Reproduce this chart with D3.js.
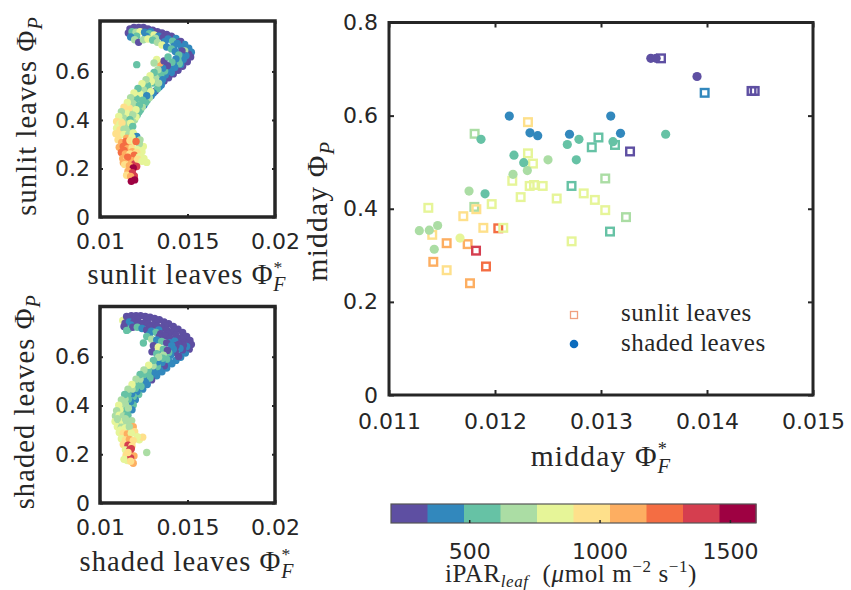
<!DOCTYPE html>
<html>
<head>
<meta charset="utf-8">
<script src="https://cdn.jsdelivr.net/npm/d3@7"></script>
<style>
  body { margin: 0; background: #fff; }
  svg { display: block; }
</style>
</head>
<body>
<svg id="fig" width="851" height="590"></svg>
<script>
// ---------- colour key: incident PAR on the leaf (µmol m-2 s-1), 10 discrete classes ----------
const parDomain = [200, 1600];
const parTicks = [500, 1000, 1500];
const spectral10 = ["#5e4fa2", "#3288bd", "#66c2a5", "#abdda4", "#e6f598",
                    "#fee08b", "#fdae61", "#f46d43", "#d53e4f", "#9e0142"];

// ---------- main panel: midday values ----------
const mainXTicks = [0.011, 0.012, 0.013, 0.014, 0.015];
const mainYTicks = [0, 0.2, 0.4, 0.6, 0.8];

const sunlitPhiF = [0.012311, 0.011808, 0.012311, 0.012358, 0.012163, 0.012242, 0.012327, 0.012368,
  0.01245, 0.012582, 0.012722, 0.012837, 0.012942, 0.01304, 0.01304, 0.012913, 0.012976, 0.013132,
  0.011371, 0.011805, 0.011824, 0.011969, 0.011701, 0.01189, 0.012031, 0.012078, 0.013085, 0.013566,
  0.013978, 0.01442, 0.01445, 0.013274, 0.013236, 0.012723, 0.011408, 0.011544, 0.011742, 0.011821,
  0.011418, 0.011544, 0.011915, 0.011764];
const sunlitPhiP = [0.586, 0.561, 0.519, 0.497, 0.46, 0.425, 0.449, 0.451,
  0.449, 0.422, 0.449, 0.433, 0.419, 0.397, 0.465, 0.532, 0.553, 0.537,
  0.402, 0.404, 0.399, 0.41, 0.384, 0.359, 0.358, 0.359, 0.351, 0.723,
  0.649, 0.653, 0.653, 0.523, 0.382, 0.33, 0.344, 0.326, 0.324, 0.31,
  0.286, 0.268, 0.276, 0.24];
const sunlitPar = [970, 690, 830, 830, 830, 830, 830, 830,
  830, 830, 550, 830, 830, 830, 690, 550, 550, 550,
  830, 690, 970, 830, 970, 970, 1250, 830, 550, 270,
  410, 270, 270, 270, 690, 830, 970, 1110, 1110, 1390,
  1110, 970, 1250, 1110];

const shadedPhiF = [0.012135, 0.01233, 0.012403, 0.012703, 0.013092, 0.013184, 0.011868, 0.012179,
  0.012271, 0.012305, 0.01217, 0.0125, 0.012682, 0.012792, 0.012767, 0.013113, 0.01361, 0.013906,
  0.01347, 0.01352, 0.011755, 0.011906, 0.011286, 0.01138, 0.011459, 0.01167, 0.011427];
const shadedPhiP = [0.599, 0.563, 0.557, 0.56, 0.599, 0.562, 0.549, 0.515,
  0.499, 0.482, 0.474, 0.505, 0.538, 0.549, 0.505, 0.544, 0.56, 0.684,
  0.723, 0.723, 0.438, 0.432, 0.353, 0.354, 0.364, 0.337, 0.313];
const shadedPar = [410, 410, 410, 410, 410, 410, 550, 550,
  550, 690, 690, 690, 550, 550, 550, 550, 550, 270,
  270, 270, 690, 550, 690, 690, 690, 830, 690];

// ---------- small panel: all sunlit-leaf records ----------
const sunAllPhiF = [
  0.01171, 0.01194, 0.01221, 0.01248, 0.01274, 0.01301, 0.01328, 0.01354, 0.01381, 0.01408, 0.01434, 0.01461,
  0.01484, 0.01507, 0.01522, 0.01518, 0.01499, 0.01472, 0.01446, 0.01419, 0.01392, 0.01366, 0.01343,
  0.011829, 0.012362, 0.012895, 0.013429, 0.013962, 0.014495, 0.014952, 0.015067, 0.014876, 0.01461,
  0.014343, 0.014076, 0.01381, 0.013581,
  0.01162, 0.01183, 0.01206, 0.01229, 0.01255, 0.01282, 0.01309, 0.01335, 0.01362, 0.01389, 0.01415, 0.01442,
  0.01465, 0.01484, 0.01491, 0.01476, 0.01453, 0.01427, 0.0140, 0.01373,
  0.012095, 0.012629, 0.013162, 0.013695, 0.014229, 0.014686, 0.014648, 0.014457, 0.01419, 0.013924, 0.013695,
  0.01175, 0.01198, 0.01221, 0.01248, 0.01274, 0.01301, 0.01328, 0.01354, 0.01381, 0.01408, 0.0143, 0.0145,
  0.01434, 0.01411, 0.01385, 0.01358, 0.01343, 0.01366, 0.01389, 0.01324, 0.0121, 0.01309,
  0.01339, 0.01316, 0.01293, 0.0127, 0.01251, 0.01232, 0.01213, 0.01198,
  0.013505, 0.013276, 0.013048, 0.012819, 0.01261, 0.012419, 0.012229, 0.012057, 0.011867,
  0.01347, 0.01324, 0.01301, 0.01278, 0.01255, 0.01236, 0.01217, 0.01198, 0.01179, 0.01164, 0.01149, 0.01137,
  0.01339, 0.013162, 0.012933, 0.012705, 0.012476, 0.012267, 0.012076, 0.011867, 0.011676, 0.011505,
  0.011333, 0.011181,
  0.01331, 0.01309, 0.01286, 0.01263, 0.0124, 0.01217, 0.01194, 0.01175, 0.01156, 0.01137, 0.01122, 0.01107, 0.01095,
  0.01358, 0.01335, 0.0129, 0.01267, 0.01244, 0.01225, 0.01206, 0.01187, 0.01171, 0.01114, 0.0116,
  0.011257, 0.011752,
  0.01095, 0.01114, 0.01137, 0.01164, 0.01187, 0.01091, 0.01114, 0.01137, 0.01164, 0.0119, 0.0121,
  0.011524, 0.011829, 0.012286, 0.012476, 0.011638,
  0.01103, 0.01124, 0.01149, 0.01171, 0.01198, 0.01225, 0.0111, 0.01133, 0.01158, 0.01183, 0.01213, 0.0124,
  0.011371, 0.011848, 0.012095,
  0.01122, 0.01145, 0.01171, 0.01196, 0.01225, 0.01251, 0.0113, 0.01154, 0.01179, 0.01198, 0.01267,
  0.011581, 0.012152, 0.0124, 0.011333, 0.012095, 0.011714, 0.011962,
  0.01141, 0.01168, 0.0119, 0.0116, 0.01185, 0.01152, 0.01175, 0.01198, 0.01179, 0.01206];
const sunAllPhiP = [
  0.775, 0.781, 0.781, 0.781, 0.775, 0.770, 0.764, 0.759, 0.753, 0.745, 0.736, 0.724,
  0.711, 0.696, 0.679, 0.660, 0.640, 0.621, 0.605, 0.590, 0.574, 0.561, 0.555,
  0.773, 0.773, 0.764, 0.753, 0.742, 0.720, 0.690, 0.671, 0.649, 0.629,
  0.613, 0.596, 0.580, 0.571,
  0.759, 0.764, 0.762, 0.764, 0.762, 0.756, 0.751, 0.745, 0.740, 0.734, 0.725, 0.715,
  0.701, 0.685, 0.665, 0.649, 0.632, 0.616, 0.601, 0.585,
  0.745, 0.745, 0.737, 0.723, 0.704, 0.685, 0.663, 0.646, 0.629, 0.613, 0.602,
  0.742, 0.731, 0.720, 0.731, 0.734, 0.729, 0.720, 0.709, 0.701, 0.693, 0.682, 0.668,
  0.652, 0.638, 0.624, 0.613, 0.635, 0.643, 0.660, 0.649, 0.628, 0.635,
  0.536, 0.519, 0.500, 0.481, 0.461, 0.442, 0.421, 0.401,
  0.544, 0.528, 0.511, 0.492, 0.472, 0.453, 0.433, 0.412, 0.393,
  0.583, 0.569, 0.552, 0.536, 0.518, 0.500, 0.481, 0.461, 0.442, 0.421, 0.401, 0.380,
  0.591, 0.574, 0.559, 0.543, 0.525, 0.507, 0.488, 0.468, 0.449, 0.428,
  0.408, 0.393,
  0.607, 0.596, 0.583, 0.566, 0.550, 0.530, 0.511, 0.492, 0.472, 0.453, 0.434, 0.415, 0.394,
  0.566, 0.552, 0.517, 0.500, 0.481, 0.461, 0.442, 0.421, 0.401, 0.384, 0.384,
  0.387, 0.387,
  0.366, 0.360, 0.362, 0.360, 0.373, 0.343, 0.339, 0.340, 0.340, 0.346, 0.332,
  0.325, 0.329, 0.318, 0.291, 0.296,
  0.318, 0.307, 0.311, 0.315, 0.310, 0.302, 0.288, 0.291, 0.282, 0.285, 0.277, 0.269,
  0.274, 0.269, 0.266,
  0.266, 0.260, 0.260, 0.255, 0.249, 0.241, 0.241, 0.236, 0.233, 0.219, 0.225,
  0.247, 0.238, 0.230, 0.224, 0.208, 0.197, 0.169,
  0.216, 0.211, 0.202, 0.189, 0.183, 0.172, 0.167, 0.153, 0.147, 0.311];
const sunAllPar = [
  270, 270, 270, 270, 270, 270, 270, 270, 270, 270, 410, 270,
  410, 410, 410, 270, 270, 270, 270, 270, 270, 270, 410,
  270, 270, 410, 270, 270, 270, 410, 270, 270, 410,
  270, 410, 270, 270,
  270, 550, 690, 830, 410, 550, 830, 410, 270, 410, 550, 410,
  410, 690, 410, 410, 550, 410, 410, 410,
  550, 410, 690, 410, 410, 270, 410, 550, 410, 410, 550,
  410, 690, 270, 690, 830, 550, 690, 830, 410, 550, 410, 550,
  410, 550, 270, 410, 1110, 270, 550, 830, 550, 690,
  410, 270, 410, 550, 410, 550, 550, 690,
  410, 550, 410, 690, 550, 690, 550, 830, 690,
  550, 830, 550, 690, 550, 830, 690, 830, 690, 550, 830, 690,
  550, 690, 830, 550, 690, 830, 550, 690, 970, 830,
  690, 830,
  690, 550, 830, 690, 830, 550, 830, 690, 830, 970, 690, 830, 970,
  410, 690, 830, 410, 550, 550, 830, 690, 550, 830, 690,
  970, 830,
  830, 970, 690, 690, 550, 970, 970, 830, 690, 830, 410,
  1110, 830, 690, 830, 1110,
  970, 1110, 1250, 970, 830, 690, 1110, 1250, 1110, 970, 830, 830,
  1250, 1110, 970,
  1250, 1110, 970, 1250, 830, 830, 1110, 970, 1110, 1390, 830,
  1250, 970, 830, 1110, 1390, 970, 1390,
  970, 1110, 1530, 1110, 1390, 970, 1110, 1530, 1530, 1250];

// ---------- small panel: all shaded-leaf records ----------
const shdAllPhiF = [
  0.0113, 0.01152, 0.01179, 0.01206, 0.01232, 0.01259, 0.01286, 0.01312, 0.01339, 0.01366, 0.01392, 0.01419,
  0.01446, 0.01472, 0.01495, 0.01514, 0.01522, 0.0151, 0.01488, 0.01461, 0.01434,
  0.011638, 0.012133, 0.012667, 0.0132, 0.013733, 0.014267, 0.014762, 0.015067, 0.01499, 0.014762, 0.014495,
  0.01143, 0.01168, 0.01194, 0.01221, 0.01248, 0.01274, 0.01301, 0.01328, 0.01354, 0.01381, 0.01408, 0.01434,
  0.01461, 0.01484, 0.01495, 0.01472,
  0.011752, 0.012286, 0.012819, 0.013352, 0.013886, 0.014419, 0.014762, 0.014457, 0.014152,
  0.01162, 0.01187, 0.01213, 0.0124, 0.01267, 0.01293, 0.0132, 0.01347, 0.01373, 0.0140, 0.01427, 0.0145,
  0.01457, 0.0143, 0.01404,
  0.012819, 0.01339, 0.013962, 0.014343, 0.01419, 0.013924, 0.013467, 0.011371, 0.011524,
  0.01267, 0.01295, 0.01324, 0.01352, 0.01381, 0.0141, 0.01305, 0.01333, 0.01362, 0.01385, 0.01297, 0.01324,
  0.01248, 0.01362,
  0.01411, 0.01381, 0.01354, 0.01324, 0.01295, 0.0127, 0.01244, 0.01221, 0.01202, 0.0119, 0.01183,
  0.013962, 0.013676, 0.01341, 0.013124, 0.012857, 0.01259, 0.012343, 0.012114, 0.011905, 0.011752,
  0.01381, 0.01354, 0.01328, 0.01301, 0.01274, 0.01248, 0.01225, 0.01202, 0.01181, 0.01162, 0.01145, 0.01137, 0.01162,
  0.013581, 0.013295, 0.013029, 0.012762, 0.012514, 0.012286, 0.012038, 0.011829, 0.0116, 0.011429,
  0.011257, 0.011143,
  0.01335, 0.01305, 0.01278, 0.01251, 0.01229, 0.01206, 0.01183, 0.0116, 0.01141, 0.01122, 0.01107, 0.01095,
  0.01088, 0.0111, 0.01133, 0.0116, 0.01086, 0.01107, 0.0113, 0.01152, 0.01181, 0.01099, 0.01122, 0.01145, 0.0119,
  0.01099, 0.011448, 0.011676, 0.011181, 0.011981, 0.012248, 0.011562,
  0.0111, 0.01133, 0.01156, 0.01179, 0.01244, 0.01213, 0.01122, 0.01145, 0.01168, 0.0119,
  0.01133, 0.0116, 0.01183, 0.01145, 0.0117, 0.01171, 0.01149, 0.01194, 0.01156, 0.0119, 0.01267, 0.01175,
  0.01179, 0.0116, 0.011371, 0.011752];
const shdAllPhiP = [
  0.749, 0.765, 0.768, 0.768, 0.768, 0.765, 0.762, 0.757, 0.752, 0.743, 0.735, 0.724,
  0.713, 0.700, 0.683, 0.667, 0.650, 0.631, 0.615, 0.598, 0.585,
  0.754, 0.754, 0.752, 0.741, 0.727, 0.708, 0.686, 0.658, 0.637, 0.617, 0.601,
  0.738, 0.743, 0.743, 0.740, 0.738, 0.735, 0.730, 0.724, 0.719, 0.710, 0.700, 0.689,
  0.675, 0.658, 0.642, 0.628,
  0.730, 0.730, 0.721, 0.710, 0.694, 0.672, 0.647, 0.631, 0.615,
  0.713, 0.721, 0.721, 0.716, 0.710, 0.705, 0.700, 0.694, 0.686, 0.675, 0.664, 0.650,
  0.634, 0.620, 0.606,
  0.691, 0.683, 0.658, 0.645, 0.631, 0.617, 0.620, 0.724, 0.708,
  0.683, 0.672, 0.669, 0.663, 0.656, 0.645, 0.645, 0.639, 0.631, 0.626, 0.620, 0.612,
  0.656, 0.606,
  0.571, 0.554, 0.538, 0.522, 0.505, 0.486, 0.467, 0.445, 0.423, 0.402, 0.382,
  0.579, 0.563, 0.546, 0.530, 0.513, 0.496, 0.478, 0.457, 0.437, 0.415,
  0.590, 0.576, 0.560, 0.543, 0.527, 0.508, 0.489, 0.470, 0.448, 0.426, 0.404, 0.382, 0.389,
  0.594, 0.579, 0.563, 0.545, 0.527, 0.508, 0.487, 0.467, 0.446, 0.426,
  0.404, 0.382,
  0.598, 0.585, 0.565, 0.546, 0.527, 0.508, 0.486, 0.467, 0.445, 0.423, 0.401, 0.379,
  0.357, 0.360, 0.357, 0.360, 0.334, 0.338, 0.335, 0.333, 0.338, 0.313, 0.311, 0.308, 0.313,
  0.346, 0.346, 0.313, 0.300, 0.292, 0.259, 0.248,
  0.289, 0.286, 0.283, 0.286, 0.270, 0.272, 0.264, 0.259, 0.261, 0.256,
  0.240, 0.237, 0.234, 0.218, 0.218, 0.204, 0.196, 0.193, 0.174, 0.163, 0.207, 0.185,
  0.223, 0.207, 0.179, 0.171];
const shdAllPar = [
  830, 270, 270, 270, 270, 270, 270, 270, 270, 270, 270, 270,
  270, 270, 270, 270, 270, 270, 410, 410, 410,
  270, 270, 270, 270, 270, 270, 270, 270, 270, 410, 270,
  270, 410, 270, 270, 270, 270, 270, 270, 270, 270, 270, 270,
  270, 270, 410, 270,
  410, 270, 270, 410, 270, 270, 270, 410, 270,
  550, 270, 550, 410, 270, 410, 550, 270, 270, 270, 410, 270,
  410, 270, 410,
  410, 270, 410, 270, 410, 550, 410, 270, 550,
  550, 690, 410, 550, 270, 410, 270, 830, 550, 270, 270, 550,
  550, 690,
  410, 410, 410, 410, 270, 410, 410, 550, 410, 550, 410,
  410, 270, 410, 410, 550, 410, 550, 410, 550, 410,
  550, 410, 550, 410, 550, 410, 550, 550, 410, 550, 690, 550, 690,
  550, 410, 690, 550, 550, 690, 550, 690, 550, 690,
  690, 830,
  690, 550, 830, 690, 550, 690, 830, 690, 550, 690, 830, 690,
  690, 830, 690, 550, 830, 690, 830, 690, 690, 830, 690, 830, 1110,
  690, 690, 690, 830, 970, 830, 970,
  830, 970, 1110, 830, 970, 830, 830, 970, 1110, 970,
  970, 1390, 970, 830, 1390, 1390, 970, 1110, 830, 1110, 690, 1390,
  1390, 970, 830, 970];

const smallXTicks = [0.01, 0.015, 0.02];
const smallYTicks = [0, 0.2, 0.4, 0.6];

// ---------- drawing ----------
const svg = d3.select("#fig");
const ink = "#262626";
const sansFont = "'DejaVu Sans', sans-serif";
const serifFont = "'Liberation Serif', 'Times New Roman', serif";
const parColor = d3.scaleQuantize().domain(parDomain).range(spectral10);
const fmt = d => (d === 0 ? "0" : d3.format("~g")(d));

function styleTickText(g, size) {
  g.selectAll("text").attr("font-family", sansFont).attr("font-size", size).attr("fill", ink);
  g.selectAll("line").attr("stroke", ink).attr("stroke-width", 2);
  g.select(".domain").remove();
}

// Φ with subscript (and optional asterisk superscript) in LaTeX-like layout
function mathLabel(t, prefix, sub, star, size) {
  t.attr("font-family", serifFont).attr("font-size", size).attr("fill", ink);
  t.append("tspan").text(prefix + "\u03A6");
  if (star) {
    t.append("tspan").attr("font-size", size * 0.62).attr("dy", -size * 0.38).text("*");
    t.append("tspan").attr("font-size", size * 0.7).attr("font-style", "italic")
      .attr("dx", -size * 0.36).attr("dy", size * 0.62).text(sub);
  } else {
    t.append("tspan").attr("font-size", size * 0.7).attr("font-style", "italic")
      .attr("dy", size * 0.22).text(sub);
  }
}

function framedAxes(x, y, xTicks, yTicks, opts) {
  const [x0, x1] = x.range();
  const [y0, y1] = y.range();
  const g = svg.append("g");
  // inward ticks on all four sides
  const bottom = g.append("g").attr("transform", `translate(0,${y0})`)
    .call(d3.axisBottom(x).tickValues(xTicks).tickFormat(fmt).tickSize(-opts.tick).tickPadding(opts.xPad));
  styleTickText(bottom, opts.font);
  bottom.selectAll("text").attr("dy", "0.71em");
  const left = g.append("g").attr("transform", `translate(${x0},0)`)
    .call(d3.axisLeft(y).tickValues(yTicks).tickFormat(fmt).tickSize(-opts.tick).tickPadding(opts.yPad));
  styleTickText(left, opts.font);
  const top = g.append("g").attr("transform", `translate(0,${y1})`)
    .call(d3.axisTop(x).tickValues(xTicks).tickFormat("").tickSize(-opts.tick));
  styleTickText(top, opts.font);
  const right = g.append("g").attr("transform", `translate(${x1},0)`)
    .call(d3.axisRight(y).tickValues(yTicks).tickFormat("").tickSize(-opts.tick));
  styleTickText(right, opts.font);
  g.append("rect").attr("x", x0).attr("y", y1).attr("width", x1 - x0).attr("height", y0 - y1)
    .attr("fill", "none").attr("stroke", ink).attr("stroke-width", opts.frame);
  return g;
}

// --- scatter of every record, one small panel per leaf class ---
function smallPanel(cfg) {
  const x = d3.scaleLinear().domain([0.01, 0.02]).range([100, 275]);
  const y = d3.scaleLinear().domain([0, cfg.yMax]).range([cfg.bottom, cfg.top]);
  const dots = svg.append("g");
  dots.selectAll("circle").data(d3.range(cfg.phiF.length)).join("circle")
    .attr("cx", i => x(cfg.phiF[i])).attr("cy", i => y(cfg.phiP[i])).attr("r", 3.7)
    .attr("fill", i => parColor(cfg.par[i]));
  framedAxes(x, y, smallXTicks, smallYTicks, { tick: 3, xPad: 16, yPad: 10, font: 22, frame: 3.5 });
  const xt = svg.append("text").attr("x", 187).attr("y", cfg.xTitleY).attr("text-anchor", "middle")
    .attr("letter-spacing", 1.1);
  mathLabel(xt, cfg.name + " ", "F", true, 28.5);
  const yt = svg.append("text").attr("text-anchor", "middle").attr("letter-spacing", 1.1)
    .attr("transform", `translate(${cfg.yTitleX},${(cfg.top + cfg.bottom) / 2 - 3}) rotate(-90)`);
  mathLabel(yt, cfg.name + " ", "P", false, 28.5);
}

smallPanel({ name: "sunlit leaves", phiF: sunAllPhiF, phiP: sunAllPhiP, par: sunAllPar,
  top: 21, bottom: 217, yMax: 0.808, xTitleY: 284, yTitleX: 36 });
smallPanel({ name: "shaded leaves", phiF: shdAllPhiF, phiP: shdAllPhiP, par: shdAllPar,
  top: 306.5, bottom: 503, yMax: 0.806, xTitleY: 571, yTitleX: 34 });

// --- main panel ---
const mx = d3.scaleLinear().domain([0.011, 0.015]).range([389, 813]);
const my = d3.scaleLinear().domain([0, 0.8]).range([395, 22.5]);

const marks = svg.append("g");
marks.selectAll("rect.sun").data(d3.range(sunlitPhiF.length)).join("rect").attr("class", "sun")
  .attr("x", i => mx(sunlitPhiF[i]) - 3.8).attr("y", i => my(sunlitPhiP[i]) - 3.8)
  .attr("width", 7.6).attr("height", 7.6)
  .attr("fill", "none").attr("stroke", i => parColor(sunlitPar[i])).attr("stroke-width", 2.4);
marks.selectAll("circle.shd").data(d3.range(shadedPhiF.length)).join("circle").attr("class", "shd")
  .attr("cx", i => mx(shadedPhiF[i])).attr("cy", i => my(shadedPhiP[i])).attr("r", 4.6)
  .attr("fill", i => parColor(shadedPar[i]));

framedAxes(mx, my, mainXTicks, mainYTicks, { tick: 5, xPad: 18, yPad: 11, font: 22, frame: 3 });

const mxt = svg.append("text").attr("x", 601).attr("y", 466).attr("text-anchor", "middle")
  .attr("letter-spacing", 1.2);
mathLabel(mxt, "midday ", "F", true, 29.5);
const myt = svg.append("text").attr("text-anchor", "middle").attr("letter-spacing", 1.2)
  .attr("transform", `translate(327,211) rotate(-90)`);
mathLabel(myt, "midday ", "P", false, 29.5);

// legend
const leg = svg.append("g");
leg.append("rect").attr("x", 570.5).attr("y", 311.5).attr("width", 7).attr("height", 7)
  .attr("fill", "none").attr("stroke", "#f0a07f").attr("stroke-width", 1.3);
leg.append("circle").attr("cx", 574).attr("cy", 344).attr("r", 4.3).attr("fill", "#0c6cbd");
leg.append("text").attr("x", 621).attr("y", 321).attr("font-family", serifFont).attr("font-size", 25)
  .attr("fill", ink).attr("letter-spacing", 0.5).text("sunlit leaves");
leg.append("text").attr("x", 621).attr("y", 351).attr("font-family", serifFont).attr("font-size", 25)
  .attr("fill", ink).attr("letter-spacing", 0.5).text("shaded leaves");

// --- colour bar ---
const cb = d3.scaleLinear().domain(parDomain).range([391, 756]);
const step = (parDomain[1] - parDomain[0]) / spectral10.length;
const cbg = svg.append("g");
cbg.selectAll("rect").data(spectral10).join("rect")
  .attr("x", (c, i) => cb(parDomain[0] + i * step)).attr("y", 504)
  .attr("width", (c, i) => cb(parDomain[0] + (i + 1) * step) - cb(parDomain[0] + i * step) + 0.5)
  .attr("height", 19).attr("fill", c => c);
cbg.append("rect").attr("x", 391).attr("y", 504).attr("width", 365).attr("height", 19)
  .attr("fill", "none").attr("stroke", "#555").attr("stroke-width", 1.2);
const cbAxis = cbg.append("g").attr("transform", "translate(0,523)")
  .call(d3.axisBottom(cb).tickValues(parTicks).tickFormat(d3.format("d")).tickSize(-3).tickPadding(20));
styleTickText(cbAxis, 22);
cbAxis.selectAll("line").attr("stroke-width", 1.5);
cbAxis.selectAll("text").attr("dy", "0.71em");

const cbl = svg.append("text").attr("x", 571).attr("y", 582).attr("text-anchor", "middle")
  .attr("font-family", serifFont).attr("font-size", 25).attr("fill", ink).attr("letter-spacing", 0.6);
cbl.append("tspan").text("iPAR");
cbl.append("tspan").attr("font-size", 17).attr("font-style", "italic").attr("dy", 5).text("leaf");
cbl.append("tspan").attr("dy", -5).attr("dx", 14).text("(");
cbl.append("tspan").attr("font-style", "italic").text("\u03BC");
cbl.append("tspan").text("mol m");
cbl.append("tspan").attr("font-size", 17).attr("dy", -10).text("\u22122");
cbl.append("tspan").attr("dy", 10).text(" s");
cbl.append("tspan").attr("font-size", 17).attr("dy", -10).text("\u22121");
cbl.append("tspan").attr("dy", 10).text(")");
</script>
</body>
</html>
